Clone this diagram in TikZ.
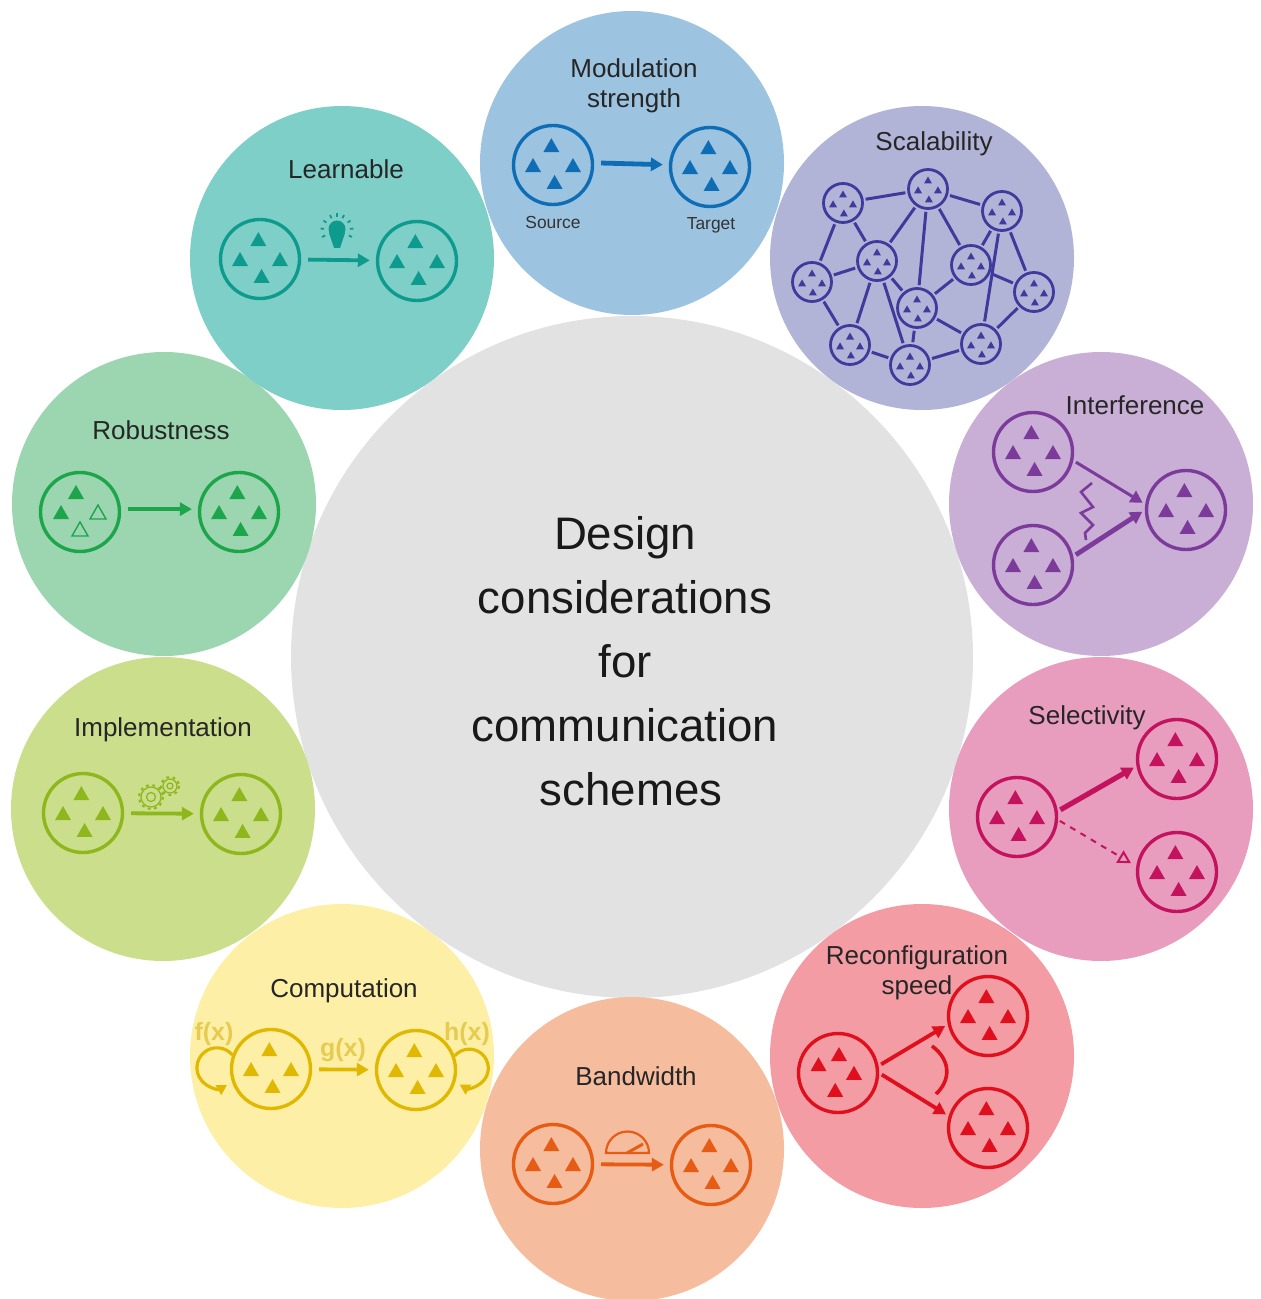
\documentclass[tikz,border=0pt]{standalone}
\usepackage{fontspec}
\setmainfont{Liberation Sans}
\usetikzlibrary{arrows.meta,positioning}
\definecolor{modfill}{HTML}{9CC3DF}
\definecolor{scafill}{HTML}{B2B4D7}
\definecolor{intfill}{HTML}{C9AFD6}
\definecolor{selfill}{HTML}{E89DBF}
\definecolor{recfill}{HTML}{F39CA3}
\definecolor{banfill}{HTML}{F6BC9E}
\definecolor{comfill}{HTML}{FDF0A6}
\definecolor{impfill}{HTML}{CBDE8C}
\definecolor{robfill}{HTML}{9CD6B1}
\definecolor{leafill}{HTML}{7FCFC9}
\definecolor{corefill}{HTML}{E2E2E2}
\definecolor{modline}{HTML}{0F6DB6}
\definecolor{scaline}{HTML}{3F3A9C}
\definecolor{intline}{HTML}{7C3A9B}
\definecolor{selline}{HTML}{C3125E}
\definecolor{recline}{HTML}{DF0F1E}
\definecolor{banline}{HTML}{E65C14}
\definecolor{comline}{HTML}{E0B802}
\definecolor{impline}{HTML}{8DB71C}
\definecolor{robline}{HTML}{1DA54C}
\definecolor{lealine}{HTML}{0E9B8D}
\definecolor{comtext}{HTML}{E6CB50}
\tikzset
{
    bubble/.style   = {circle, minimum size=152pt, inner sep=0pt},
    popnode/.style  = {circle, draw, line width=1.7pt, minimum size=39.5pt, inner sep=0pt},
    tinynode/.style = {circle, draw=scaline, line width=1.4pt, minimum size=19.5pt, inner sep=0pt},
    title/.style    = {align=center, text=black!85, font=\fontsize{13}{15}\selectfont},
    flow/.style     = {line width=1.9pt, -{Triangle[length=6pt,width=6.5pt]}, shorten <=3.5pt, shorten >=3pt},
    link/.style     = {draw=scaline, line width=1.5pt, shorten <=1pt, shorten >=1pt},
    funclabel/.style = {text=comtext, font=\fontsize{12.5}{15}\bfseries\selectfont}
}
% population: places of the triangles, name, position, colour
\newcommand{\popn}[4][-95/19,177/20,3/20,85/18]{
    \node[popnode,draw=#4] (#2) at (#3) {};
    \foreach \a/\d in {#1}
        \fill[#4] ([shift={(\a:\d)}]#2.center) ++(0,-8) -- ++(8,14) -- ++(-16,0) -- cycle;
}
\newcommand{\tinypopn}[2]{
    \node[tinynode] (#1) at (#2) {};
    \foreach \a/\d in {-90/9,175/10,5/10,85/10}
        \fill[scaline] ([shift={(\a:\d)}]#1.center) ++(0,-3.5) -- ++(4,7) -- ++(-8,0) -- cycle;
}
\begin{document}
\begin{tikzpicture}[x=0.5pt,y=-0.5pt]
	\useasboundingbox (0,0) rectangle (1261,1299);
	% core and the ring round it
	\node[circle,fill=corefill,minimum size=341pt,inner sep=0pt] (core) at (632,657) {};
	\node[bubble,fill=modfill] (modulation) at (632,163) {};
	\node[bubble,fill=scafill] (scalability) at (922,258) {};
	\node[bubble,fill=intfill] (interference) at (1101,504) {};
	\node[bubble,fill=selfill] (selectivity) at (1101,809) {};
	\node[bubble,fill=recfill] (reconfig) at (922,1056) {};
	\node[bubble,fill=banfill] (bandwidth) at (632,1149) {};
	\node[bubble,fill=comfill] (computation) at (342,1056) {};
	\node[bubble,fill=impfill] (implementation) at (163,809) {};
	\node[bubble,fill=robfill] (robustness) at (164,504) {};
	\node[bubble,fill=leafill] (learnable) at (342,258) {};
	\node[align=center,text=black!90,font=\fontsize{22.8}{32}\selectfont] (coretext) at (625,661)
		{Design\\considerations\\for\\communication\\\hspace{6pt}schemes};
	% modulation strength
	\node[title] (modtitle) at (634,86) {Modulation\\strength};
	\popn{source}{553,165}{modline}
	\popn{target}{710,167}{modline}
	\draw[flow,modline,line width=2.4pt] (source.3) -- (target.177);
	\node[text=black!80,font=\fontsize{8.7}{10}\selectfont] (sourcetext) at (553,223) {Source};
	\node[text=black!80,font=\fontsize{8.7}{10}\selectfont] (targettext) at (711,225) {Target};
	% scalability
	\node[title] (scatitle) at (934,144) {Scalability};
	\foreach \name/\pos in {a/{843,203},b/{928,189},c/{1002,211},d/{877,261},e/{812,282},f/{971,265},g/{1034,292},h/{917,308},i/{850,345},j/{910,365},k/{981,344}}
	{
		\tinypopn{\name}{\pos}
	}
	\foreach \from/\to in {a/b,b/c,a/e,a/d,b/d,b/h,b/f,c/f,c/g,c/k,d/e,d/i,d/j,d/h,e/i,f/h,f/g,g/k,h/j,h/k,i/j,j/k}
	{
		\draw[link] (\from) -- (\to);
	}
	% interference
	\node[title] (inttitle) at (1135,405) {Interference};
	\popn{intup}{1033,452}{intline}
	\popn{intdown}{1033,565}{intline}
	\popn{intright}{1186,510}{intline}
	\draw[flow,intline,line width=1.5pt,shorten <=1.5pt,shorten >=1.5pt] (intup.-12) -- (intright.172);
	\draw[flow,intline,line width=2.4pt,shorten <=1.5pt,shorten >=1.5pt] (intdown.12) -- (intright.180);
	\draw[intline,line width=1.3pt] (1092,483) -- (1081,492) -- (1093,507) -- (1081,513) -- (1093,525) -- (1085,533) -- (1086,540);
	% selectivity
	\node[title] (seltitle) at (1087,718) {Selectivity};
	\popn{selleft}{1017,817}{selline}
	\popn{selup}{1177,759}{selline}
	\popn{seldown}{1177,872}{selline}
	\draw[flow,selline,line width=2.6pt,shorten <=1.5pt,shorten >=1.5pt] (selleft.8) -- (selup.-170);
	\draw[selline,line width=1pt,dashed,-{Triangle[open,length=6.5pt,width=7pt]},shorten <=1pt,shorten >=3pt] (selleft.-4) -- (seldown.172);
	% reconfiguration speed
	\node[title] (rectitle) at (917,973) {Reconfiguration\\speed};
	\popn[-87/18,-158/21,3/16,99/18]{recleft}{838,1073}{recline}
	\popn{recup}{988,1016}{recline}
	\popn{recdown}{988,1128}{recline}
	\draw[flow,recline,shorten <=1.5pt,shorten >=1.5pt] (recleft.10) -- (recup.-168);
	\draw[flow,recline,shorten <=1.5pt,shorten >=1.5pt] (recleft.0) -- (recdown.163);
	\draw[recline,line width=1.8pt] (932,1046) .. controls (951,1060) and (951,1080) .. (936,1094);
	% bandwidth
	\node[title] (bantitle) at (636,1076) {Bandwidth};
	\popn{banleft}{553,1164}{banline}
	\popn{banright}{711,1165}{banline}
	\draw[flow,banline] (banleft) -- (banright);
	\draw[banline,line width=1.1pt] (606,1153) arc[start angle=180,end angle=360,radius=21.5] -- cycle;
	\draw[banline,line width=1.5pt] (627,1153) -- (643,1144);
	% computation
	\node[title] (comtitle) at (344,991) {Computation};
	\popn{comleft}{271,1069}{comline}
	\popn{comright}{416,1070}{comline}
	\draw[flow,comline] (comleft) -- (comright);
	\draw[comline,line width=1.6pt,-{Triangle[length=5pt,width=5.5pt]}] (comleft.160) arc[start angle=-40,end angle=-300,radius=20];
	\draw[comline,line width=1.6pt,-{Triangle[length=5pt,width=5.5pt]}] (comright.20) arc[start angle=-140,end angle=120,radius=19];
	\node[funclabel] (ftext) at (214,1034) {f(x)};
	\node[funclabel] (gtext) at (343,1050) {g(x)};
	\node[funclabel] (htext) at (467,1034) {h(x)};
	% implementation
	\node[title] (imptitle) at (163,730) {Implementation};
	\popn{impleft}{83,813}{impline}
	\popn{impright}{241,814}{impline}
	\draw[flow,impline] (impleft) -- (impright);
	\draw[impline,line width=0.6pt] (151,797) circle[radius=10] (151,797) circle[radius=4.5] (170,786) circle[radius=7] (170,786) circle[radius=3];
	\draw[impline,line width=1pt,dash pattern=on 1.4pt off 1.8pt] (151,797) circle[radius=12] (170,786) circle[radius=9];
	% robustness
	\node[title] (robtitle) at (161,430) {Robustness};
	\node[popnode,draw=robline] (robleft) at (80,512) {};
	\fill[robline] (76,485) -- ++(8,14) -- ++(-16,0) -- cycle;
	\fill[robline] (61,505) -- ++(8,14) -- ++(-16,0) -- cycle;
	\draw[robline,line width=0.7pt] (98,505) -- ++(8,14) -- ++(-16,0) -- cycle;
	\draw[robline,line width=0.7pt] (80,522) -- ++(8,14) -- ++(-16,0) -- cycle;
	\popn{robright}{239,512}{robline}
	\draw[flow,robline] (robleft.4) -- (robright.176);
	% learnable
	\node[title] (leatitle) at (346,169) {Learnable};
	\popn{lealeft}{260,259}{lealine}
	\popn{learight}{417,261}{lealine}
	\draw[flow,lealine] (lealeft) -- (learight);
	\fill[lealine] (337,229) circle[radius=8.5];
	\fill[lealine] (329,233) -- (345,233) -- (340,248) -- (334,248) -- cycle;
	\foreach \a in {-175,-145,-115,-90,-65,-35,-5,25,155}
	{
		\draw[lealine,line width=0.9pt] (337,230) ++(\a:13) -- ++(\a:3.5);
	}
\end{tikzpicture}
\end{document}
